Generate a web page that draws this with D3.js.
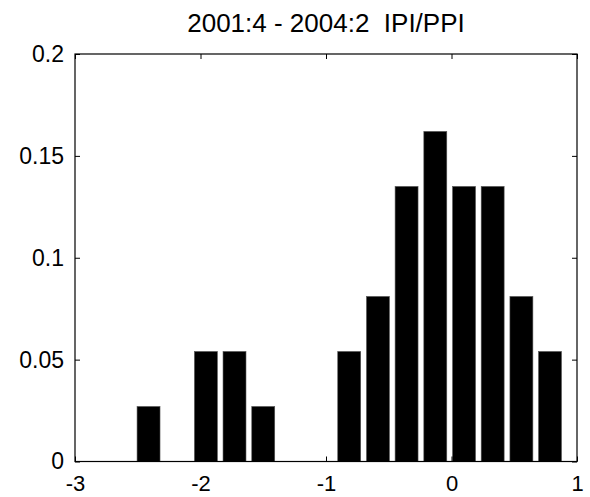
<!DOCTYPE html>
<html>
<head>
<meta charset="utf-8">
<script src="https://cdn.jsdelivr.net/npm/d3@7"></script>
<style>
body { margin: 0; background: #fff; }
text { font-family: "Liberation Sans", Arial, sans-serif; fill: #000; }
</style>
</head>
<body>
<svg class="chart"></svg>
<script>
var width = 590, height = 497;

// histogram bin centres and relative frequencies (counts / 37)
var binCenters = [-2.414, -2.186, -1.957, -1.729, -1.500, -1.272, -1.043, -0.815, -0.586, -0.358, -0.129, 0.100, 0.328, 0.557, 0.785];
var freqs = [0.027, 0, 0.054, 0.054, 0.027, 0, 0, 0.054, 0.081, 0.135, 0.162, 0.135, 0.135, 0.081, 0.054];
var xTicks = [-3, -2, -1, 0, 1];
var xTickLabels = ["-3", "-2", "-1", "0", "1"];
var yTicks = [0, 0.05, 0.1, 0.15, 0.2];
var yTickLabels = ["0", "0.05", "0.1", "0.15", "0.2"];
var title = "2001:4 - 2004:2  IPI/PPI";

var plotL = 75, plotR = 577, plotT = 54, plotB = 461.5;

var chart = d3.select(".chart")
    .attr("width", width)
    .attr("height", height);

var x = d3.scaleLinear().domain([-3, 1]).range([plotL, plotR]);
var y = d3.scaleLinear().domain([0, 0.2]).range([plotB, plotT]);

var binW = (binCenters[binCenters.length - 1] - binCenters[0]) / (binCenters.length - 1);
var barW = x(binW * 0.8) - x(0);

// bars
chart.append("g").selectAll("rect")
    .data(binCenters)
    .enter().append("rect")
    .attr("x", function(d) { return x(d) - barW / 2; })
    .attr("y", function(d, i) { return y(freqs[i]); })
    .attr("width", barW)
    .attr("height", function(d, i) { return plotB - y(freqs[i]); })
    .attr("fill", "#000")
    .attr("stroke", "#555")
    .attr("stroke-width", 0.6);

// ticks, MATLAB style: inward on all four sides
var tickLen = 5;
var axisBottom = d3.axisBottom(x).tickValues(xTicks).tickSize(-tickLen).tickPadding(14)
    .tickFormat(function(d, i) { return xTickLabels[i]; });
var axisTop = d3.axisTop(x).tickValues(xTicks).tickSize(-tickLen).tickFormat("");
var axisLeft = d3.axisLeft(y).tickValues(yTicks).tickSize(-tickLen).tickPadding(11)
    .tickFormat(function(d, i) { return yTickLabels[i]; });
var axisRight = d3.axisRight(y).tickValues(yTicks).tickSize(-tickLen).tickFormat("");

function style(size) {
    return function(g) {
        g.select(".domain").remove();
        g.selectAll("line").attr("stroke", "#000").attr("stroke-width", 1);
        g.selectAll("text").style("font-size", size).attr("fill", "#000")
            .style("font-family", "'Liberation Sans', Arial, sans-serif");
    };
}

chart.append("g").attr("transform", "translate(0," + plotB + ")").call(axisBottom).call(style("22px"));
chart.append("g").attr("transform", "translate(0," + plotT + ")").call(axisTop).call(style("22px"));
chart.append("g").attr("transform", "translate(" + plotL + ",0)").call(axisLeft).call(style("23px"));
chart.append("g").attr("transform", "translate(" + plotR + ",0)").call(axisRight).call(style("23px"));

// box
chart.append("rect")
    .attr("x", plotL).attr("y", plotT)
    .attr("width", plotR - plotL).attr("height", plotB - plotT)
    .attr("fill", "none").attr("stroke", "#000").attr("stroke-width", 1.2);

chart.append("text")
    .attr("x", (plotL + plotR) / 2)
    .attr("y", 31.5)
    .attr("text-anchor", "middle")
    .style("font-size", "26px")
    .style("white-space", "pre")
    .text(title);
</script>
</body>
</html>
